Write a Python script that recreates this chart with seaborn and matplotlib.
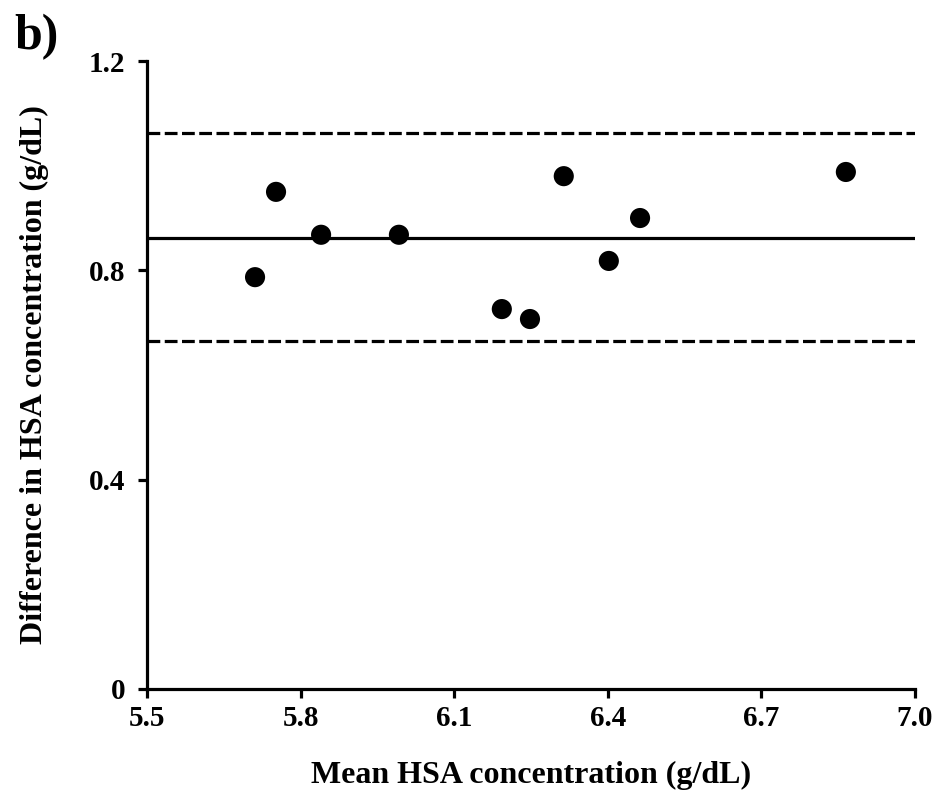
import matplotlib
matplotlib.use("Agg")
import matplotlib.pyplot as plt
import seaborn as sns
import pandas as pd

mean_conc = [5.711, 5.752, 5.840, 5.992, 6.193, 6.248, 6.314, 6.402, 6.463, 6.865]
diff_conc = [0.787, 0.950, 0.868, 0.868, 0.726, 0.707, 0.980, 0.818, 0.900, 0.988]
bias = 0.862
upper_loa = 1.062
lower_loa = 0.665
x_ticks = [5.5, 5.8, 6.1, 6.4, 6.7, 7.0]
x_tick_labels = ["5.5", "5.8", "6.1", "6.4", "6.7", "7.0"]
y_ticks = [0, 0.4, 0.8, 1.2]
y_tick_labels = ["0", "0.4", "0.8", "1.2"]

sns.set_style("ticks")
plt.rcParams['font.family'] = ['Liberation Serif', 'DejaVu Serif']
plt.rcParams['font.weight'] = 'bold'
plt.rcParams['text.color'] = 'black'
plt.rcParams['axes.labelcolor'] = 'black'

df = pd.DataFrame({"mean": mean_conc, "diff": diff_conc})

fig = plt.figure(figsize=(9.37, 8.02), dpi=100)
ax = fig.add_axes([0.1569, 0.1409, 0.8196, 0.7830])

ax.axhline(bias, color="black", lw=2.3, zorder=1)
ax.axhline(upper_loa, color="black", lw=2.3, ls=(0, (4, 1.4)), zorder=1)
ax.axhline(lower_loa, color="black", lw=2.3, ls=(0, (4, 1.4)), zorder=1)

sns.scatterplot(data=df, x="mean", y="diff", ax=ax, color="black", s=210,
                edgecolor="none", zorder=3, legend=False)

ax.set_xlim(5.5, 7.0)
ax.set_ylim(0, 1.2)
ax.set_xticks(x_ticks)
ax.set_xticklabels(x_tick_labels)
ax.set_yticks(y_ticks)
ax.set_yticklabels(y_tick_labels)

for s in ["top", "right"]:
    ax.spines[s].set_visible(False)
for s in ["left", "bottom"]:
    ax.spines[s].set_linewidth(2.3)
    ax.spines[s].set_color("black")

ax.tick_params(axis="both", direction="out", length=6.5, width=2.3, colors="black",
               labelsize=21)
ax.tick_params(axis="y", pad=9)
ax.tick_params(axis="x", pad=5)
for lab in ax.get_xticklabels() + ax.get_yticklabels():
    lab.set_fontweight("bold")

ax.set_xlabel("Mean HSA concentration (g/dL)", fontsize=23, fontweight="bold",
              labelpad=21, color="black")
ax.set_ylabel("Difference in HSA concentration (g/dL)", fontsize=23, fontweight="bold",
              labelpad=29, color="black")

fig.text(0.015, 0.982, "b)", fontsize=36, fontweight="bold", ha="left", va="top",
         color="black")

fig.savefig("out.png", dpi=100)
